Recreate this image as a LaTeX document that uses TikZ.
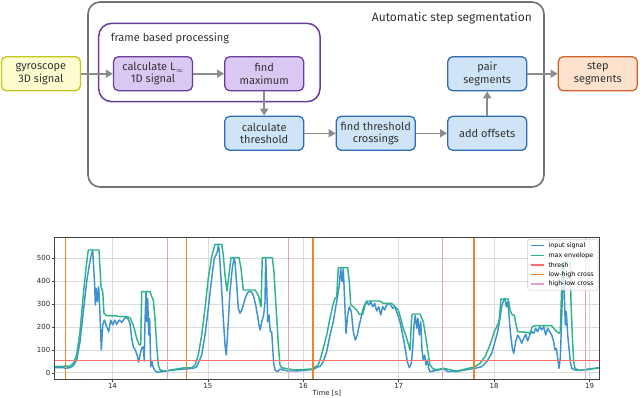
\documentclass[tikz,border=0pt]{standalone}
\usepackage{fontspec}
\setmainfont{Fira Sans}
\newfontfamily\plotfont{DejaVu Sans}
\usetikzlibrary{arrows.meta}
\definecolor{outerG}{HTML}{737373}
\definecolor{purB}{HTML}{6A3D9A}
\definecolor{purF}{HTML}{D8C8F2}
\definecolor{bluB}{HTML}{2E6DB4}
\definecolor{bluF}{HTML}{CFE5F7}
\definecolor{yelB}{HTML}{C5C51E}
\definecolor{yelF}{HTML}{FDFDCF}
\definecolor{orB}{HTML}{D0622A}
\definecolor{orF}{HTML}{FDE3CD}
\definecolor{arrG}{HTML}{8C8C8C}
\definecolor{txt}{HTML}{333333}
\definecolor{sigB}{HTML}{3D91D0}
\definecolor{envG}{HTML}{2DB28A}
\definecolor{thrR}{HTML}{FF6E6E}
\definecolor{lhO}{HTML}{E8852E}
\definecolor{hlP}{HTML}{E3A0CC}
\definecolor{gridG}{HTML}{DADADA}
\definecolor{legB}{HTML}{CCCCCC}
\definecolor{axG}{HTML}{444444}
\begin{document}
\begin{tikzpicture}[x=1pt,y=-1pt,
  box/.style={draw, rounded corners=5pt, line width=1.3pt, minimum width=79pt, minimum height=34pt,
    align=center, inner sep=1pt, text=txt, font=\fontsize{11}{12.5}\selectfont},
  yelbox/.style={box, draw=yelB, fill=yelF},
  purbox/.style={box, draw=purB, fill=purF},
  blubox/.style={box, draw=bluB, fill=bluF},
  orbox/.style={box, draw=orB, fill=orF},
  arr/.style={draw=arrG, line width=1.6pt, -{Triangle[length=7pt,width=8pt]}},
  gridline/.style={draw=gridG, line width=0.8pt},
  sigline/.style={draw=sigB, line width=1.45pt, line join=round},
  envline/.style={draw=envG, line width=1.45pt, line join=round},
  thrline/.style={draw=thrR, line width=1.2pt},
  lhline/.style={draw=lhO, line width=1.2pt},
  hlline/.style={draw=hlP, line width=1.2pt},
  ticklab/.style={font=\plotfont\fontsize{7}{8}\selectfont, inner sep=0.5pt, text=black!85},
  leglab/.style={font=\plotfont\fontsize{6.3}{7}\selectfont, anchor=west, inner sep=0pt}
]
\useasboundingbox (0,0) rectangle (640,397);

% ---------- block diagram ----------
\draw[draw=outerG, line width=1.6pt, rounded corners=12pt] (88,2) rectangle (544,187);
\node[anchor=east, text=txt, font=\fontsize{12}{14}\selectfont, inner sep=0pt] (title) at (532,18.5) {Automatic step segmentation};
\draw[draw=purB, line width=1.5pt, rounded corners=13pt] (98.7,23.3) rectangle (320,101.7);
\node[anchor=west, text=txt, font=\fontsize{11}{13}\selectfont, inner sep=0pt] (frametitle) at (110.7,38.5) {frame based processing};

\node[yelbox] (gyro) at (40.9,73.7) {gyroscope\\3D signal};
\node[purbox] (calc) at (153,73.7) {calculate L\raisebox{-0.35ex}{\scriptsize$\infty$}\\1D signal};
\node[purbox] (findmax) at (264.2,73.7) {find\\maximum};
\node[blubox] (calcthr) at (264.2,133.3) {calculate\\threshold};
\node[blubox] (findcross) at (375.8,133.3) {find threshold\\crossings};
\node[blubox] (addoff) at (487.2,133.3) {add offsets};
\node[blubox] (pair) at (487.2,73.7) {pair\\segments};
\node[orbox] (stepseg) at (597.8,73.7) {step\\segments};

\draw[arr] (gyro) -- (calc);
\draw[arr] (calc) -- (findmax);
\draw[arr] (findmax) -- (calcthr);
\draw[arr] (calcthr) -- (findcross);
\draw[arr] (findcross) -- (addoff);
\draw[arr] (addoff) -- (pair);
\draw[arr] (pair) -- (stepseg);

% ---------- plot ----------
\begin{scope}
\clip (54.3,237.3) rectangle (599.3,379.5);
\foreach \x in {112.5,207.9,303.3,398.7,494.1,589.5} \draw[gridline] (\x,237.3) -- (\x,379.5);
\foreach \v in {0,...,5} \draw[gridline] (54.3,{372.8-22.9*\v}) -- (599.3,{372.8-22.9*\v});
\draw[sigline] plot coordinates {
(50,367.7) (63.3,367.7) (65,368.3) (70,367.7) (73.3,365.7) (76.7,360) (80,341.7) (83.3,311.7) (86.7,281.7) (89.3,265) (91.3,255) (92.7,250) (93.7,268.3) (94.7,285) (95.3,305) (96.3,288.3) (97.3,301.7) (98.7,286.7) (100,315) (101.3,350) (102.7,325) (104.3,320) (106.7,326.7) (108.7,331.7) (110.7,320) (112.7,325) (114.7,320) (116.7,324.3) (119.3,320) (122,322.3) (125,317.7) (127.7,318.3) (130,323.3) (131.7,338.3) (133.3,346.7) (135.3,350) (137.3,355.7) (138.7,362.3) (140,355) (141.7,348.3) (143.3,346.7) (144.3,361) (145,321.7) (146,291.7) (146.7,321.7) (147.7,298.3) (148.7,335) (149.7,318.3) (150.7,366.7) (152,361.7) (153.3,367.7) (155.3,371) (157.3,372.3) (161.7,371.7) (170,370.3) (180,369.5)
(185,369) (193.3,368.3) (196.7,366.7) (201.7,355) (205,335) (208.3,308.3) (211.7,278.3) (214.3,258.3) (216,255) (217.7,250) (218.3,245) (219.3,251.7) (221,278.3) (223.3,318.3) (225,345) (226.3,355) (227.7,331.7) (230,291.7) (232.3,268.3) (234,258.3) (235,261.7) (236.7,285) (238.3,308.3) (240,313.3) (241.7,310) (243.3,305) (245.7,296.7) (248.3,291.7) (251,291.7) (253.3,295) (255.7,305) (257.7,316.7) (259,325) (260.3,330) (261.7,321.7) (263.7,315) (265,301.7) (265.7,258.3) (266.7,285) (267.7,321.7) (269,315) (270.3,331.7) (271.7,331.7) (272.7,348.3) (273.7,363.3) (275,370) (277.7,371.7) (280,369) (283.3,370) (288.3,371) (295,371) (305,370.3) (313.3,369.3) (318.3,366.7)
(320,366.7) (323.3,361.7) (326.7,351.7) (330,335) (333.3,321.7) (336,305) (337.3,298.3) (339.3,285) (340.7,268.3) (342,281.7) (343.3,268.3) (344.7,301.7) (346,333.3) (347.7,315) (349.3,306.7) (351.3,311.7) (353.3,331.7) (355.3,340) (357.3,335) (359.3,325) (361.3,316.7) (363.3,308.3) (365.3,303.3) (366.7,301.7) (368.7,305) (370.7,301.7) (372.7,306.7) (374.7,303.3) (376.7,311) (378.7,306.7) (380.7,315) (382.7,306.7) (384.7,310) (386.7,305) (388.7,303.3) (390.7,305) (392.7,308.3) (394.7,306.7) (397.3,313.3) (400,321.7) (402,331.7) (404,341.7) (406,353.3) (407.3,361.7) (409.3,367.7) (411.3,363.3) (412.7,348.3) (414,325) (415.3,315) (416.7,328.3) (418,318.3) (419.3,335) (420.7,321.7) (422,350) (423.3,360) (424.7,355) (426,365) (427.3,360) (428.7,368.3) (430,371.7) (433.3,371) (438.3,370) (443.3,369) (448.3,371.7) (453.3,371)
(455,371.7) (465,370) (475,368.3) (481.7,366.7) (486.7,361.7) (491.7,353.3) (495,341.7) (497.7,331.7) (500,318.3) (501.7,306.7) (503.7,300) (505,298.3) (506.3,306.7) (507.7,301.7) (509,315) (510.3,331.7) (512.3,348.3) (513.7,353.3) (515.7,341.7) (517.7,335) (519.7,338.3) (521.7,343.3) (523.7,338.3) (525.7,334.3) (527.7,341) (529.7,335) (531.7,331.7) (533.7,333.3) (535.7,328.3) (537.7,331.7) (539.7,326.7) (541.7,330) (543.7,326.7) (545.7,335) (547.7,328.3) (549.7,331.7) (551.7,335) (553.7,341.7) (555,350) (556.3,348.3) (557.7,358.3) (559,368.3) (560.3,358.3) (561.7,318.3) (562.7,285) (563.3,262) (564.3,295) (565.3,325) (566.3,311.7) (567.7,335) (569,348.3) (570.3,361.7) (571.7,368.3) (575,370) (581.7,370.3) (588.3,369) (595,368.3) (605,367.7)
};
\draw[envline] plot coordinates {
(50,366.7) (70,366) (73.3,363.3) (76.7,355) (80,331.7) (83.3,295) (86,268.3) (88.3,250) (99,250) (100,268.3) (101,286.7) (102.7,291.7) (104,313.3) (106.7,315.7) (110,315.7) (116.7,316) (120,316.7) (126.7,316.7) (130,317.7) (133.3,325) (136.7,338.3) (139.3,345) (140.7,345) (141.7,291.7) (150,291.7) (151.7,296.7) (153.3,300) (155,318.3) (156.7,345) (158.3,365) (160,370) (165,371) (176.7,369)
(185,367.7) (191.7,367.7) (195,365) (198.3,355) (201.7,335) (205,308.3) (208.3,278.3) (211.7,256.7) (215,244.3) (221.7,244.3) (223.3,255) (225,275) (227,291) (229,275) (231,257.7) (239,257.7) (241,268.3) (243.3,290) (255,290) (258.3,295) (261,306.7) (262.3,257.7) (272.3,257.7) (274,271.7) (275.7,301.7) (277,321.7) (278.3,345) (280,365) (281.7,367.7) (285,368.3) (295,370) (311.7,369) (318.3,365)
(320,360) (323.3,348.3) (326.7,335) (330,318.3) (333.3,303.3) (335,298.3) (336.7,296.7) (338.3,267.7) (347.7,267.7) (349.3,281.7) (350.7,305) (353.3,306.7) (356.7,310) (359.3,314.3) (362.7,314.3) (365,305) (366.7,301) (380,301) (383.3,303.3) (391.7,303.3) (395,306.7) (398.3,310) (400.7,318.3) (403.3,328.3) (406.7,338.3) (410,350) (411.7,316.7) (412.7,314) (420,314) (423.3,321.7) (426,338.3) (428.3,355) (430,365) (433.3,369) (436.7,369.7) (443.3,368.3) (450,369.7)
(455,371) (461.7,370) (468.3,368.3) (475,366.7) (480,363.3) (485,356.7) (490,345) (494.3,331.7) (496.7,326.7) (499,321.7) (501,299) (508.3,299) (510,310) (512.3,315) (514.3,315) (515.7,323.3) (517.7,331.7) (526.7,332.3) (530,333.3) (532.3,326.7) (535,325.7) (551.7,325.7) (555,330) (559,333.3) (560.3,331.7) (561.7,285) (562.3,262) (570,262) (571,301.7) (572.3,335) (573.7,361.7) (575,368.3) (578.3,370) (585,370) (591.7,369) (598.3,367.7) (605,367.7)
};
\draw[thrline] (54.3,360.5) -- (599.3,360.5);
\foreach \x in {65.3,186.7,313,473.9} \draw[lhline] (\x,237.3) -- (\x,379.5);
\foreach \x in {167.3,288.8,442.2,585.8} \draw[hlline] (\x,237.3) -- (\x,379.5);
\end{scope}
\draw[draw=axG, line width=0.6pt] (54.3,237.3) rectangle (599.3,379.5);
\foreach \v in {0,...,5} {
  \draw[draw=axG, line width=0.5pt] (54.3,{372.8-22.9*\v}) -- (51.8,{372.8-22.9*\v});
  \pgfmathtruncatemacro{\lab}{100*\v}
  \node[ticklab, anchor=east] (yl\v) at (51,{372.8-22.9*\v}) {\lab};
}
\foreach \x/\t in {112.5/14,207.9/15,303.3/16,398.7/17,494.1/18,589.5/19} {
  \draw[draw=axG, line width=0.5pt] (\x,379.5) -- (\x,382);
  \node[ticklab] (xl\t) at (\x,385.5) {\t};
}
\node[ticklab] (xlabel) at (326.8,393) {Time [s]};

% legend
\draw[draw=legB, fill=white, fill opacity=0.8, line width=0.5pt, rounded corners=1.5pt] (527.7,239.3) rectangle (598.2,290);
\draw[sigline] (531,245.7) -- (543.5,245.7);
\draw[envline] (531,255.4) -- (543.5,255.4);
\draw[thrline] (531,264.9) -- (543.5,264.9);
\draw[lhline] (531,274.4) -- (543.5,274.4);
\draw[hlline] (531,284) -- (543.5,284);
\node[leglab] (l1) at (548.3,245.7) {input signal};
\node[leglab] (l2) at (548.3,255.4) {max envelope};
\node[leglab] (l3) at (548.3,264.9) {thresh};
\node[leglab] (l4) at (548.3,274.4) {low-high cross};
\node[leglab] (l5) at (548.3,284) {high-low cross};
\end{tikzpicture}
\end{document}
